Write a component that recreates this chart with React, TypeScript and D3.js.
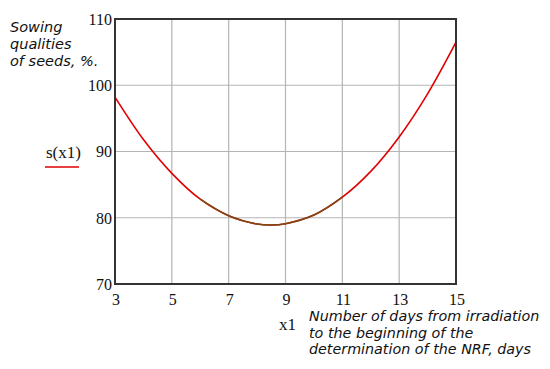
import { useRef, useEffect } from "react";
import * as d3 from "d3";

// values
const days = [3, 4, 5, 6, 7, 8, 8.5, 9, 10, 11, 12, 13, 14, 15];
const sowing = [98.2, 91.8, 86.7, 82.8, 80.3, 79.05, 78.9, 79.1, 80.4, 83.1, 87.0, 92.2, 98.7, 106.5];
const xTicks = [3, 5, 7, 9, 11, 13, 15];
const yTicks = [70, 80, 90, 100, 110];
const yTitle = ["Sowing", "qualities", "of seeds, %."];
const xTitle = ["Number of days from irradiation", "to the beginning of the", "determination of the NRF, days"];

export default function App() {
  const ref = useRef<SVGSVGElement>(null);

  useEffect(() => {
    const svg = d3.select(ref.current);
    const width = 550;
    const height = 369;
    svg.selectAll("*").remove();
    svg.attr("width", width).attr("height", height);

    const x = d3.scaleLinear().domain([3, 15]).range([115, 456]);
    const y = d3.scaleLinear().domain([70, 110]).range([284, 19]);

    // grid
    svg.append("g")
      .selectAll("line")
      .data(xTicks.slice(1, -1))
      .enter()
      .append("line")
      .attr("x1", (d) => x(d)).attr("x2", (d) => x(d))
      .attr("y1", y(110)).attr("y2", y(70))
      .attr("stroke", "#b4b4b4").attr("stroke-width", 1.2);
    svg.append("g")
      .selectAll("line")
      .data(yTicks.slice(1, -1))
      .enter()
      .append("line")
      .attr("x1", x(3)).attr("x2", x(15))
      .attr("y1", (d) => y(d)).attr("y2", (d) => y(d))
      .attr("stroke", "#b4b4b4").attr("stroke-width", 1.2);

    // curve
    const pts = days.map((d, i) => [d, sowing[i]] as [number, number]);
    const line = d3.line<[number, number]>()
      .x((d) => x(d[0]))
      .y((d) => y(d[1]))
      .curve(d3.curveCatmullRom);
    svg.append("path")
      .attr("d", line(pts))
      .attr("fill", "none")
      .attr("stroke", "#e00000")
      .attr("stroke-width", 1.6);
    // darker middle portion as in the reference
    const mid = pts.filter((p) => p[0] >= 6 && p[0] <= 11);
    svg.append("path")
      .attr("d", line(mid))
      .attr("fill", "none")
      .attr("stroke", "#7a4a14")
      .attr("stroke-width", 1.6);

    // frame
    svg.append("rect")
      .attr("x", x(3)).attr("y", y(110))
      .attr("width", x(15) - x(3)).attr("height", y(70) - y(110))
      .attr("fill", "none")
      .attr("stroke", "#333")
      .attr("stroke-width", 2);

    const tickFont = "'Liberation Serif', 'DejaVu Serif', serif";

    // y tick labels
    svg.append("g")
      .selectAll("text")
      .data(yTicks)
      .enter()
      .append("text")
      .attr("x", 112)
      .attr("y", (d) => y(d))
      .attr("dy", "0.36em")
      .attr("text-anchor", "end")
      .style("font-family", tickFont)
      .style("font-size", "16px")
      .style("fill", "#111")
      .text((d) => d);

    // x tick labels
    svg.append("g")
      .selectAll("text")
      .data(xTicks)
      .enter()
      .append("text")
      .attr("x", (d) => x(d) + 1)
      .attr("y", 305)
      .attr("text-anchor", "middle")
      .style("font-family", tickFont)
      .style("font-size", "16px")
      .style("fill", "#111")
      .text((d) => d);

    // axis names
    svg.append("text")
      .attr("x", 46).attr("y", 158)
      .style("font-family", tickFont)
      .style("font-size", "17px")
      .style("fill", "#111")
      .text("s(x1)");
    svg.append("line")
      .attr("x1", 45).attr("x2", 79)
      .attr("y1", 167).attr("y2", 167)
      .attr("stroke", "#e00000").attr("stroke-width", 1.6);
    svg.append("text")
      .attr("x", 279).attr("y", 330)
      .style("font-family", tickFont)
      .style("font-size", "17px")
      .style("fill", "#111")
      .text("x1");

    const noteFont = "'DejaVu Sans', sans-serif";
    svg.append("g")
      .selectAll("text")
      .data(yTitle)
      .enter()
      .append("text")
      .attr("x", 10)
      .attr("y", (d, i) => 32 + i * 17)
      .style("font-family", noteFont)
      .style("font-style", "italic")
      .style("font-size", "14.5px")
      .style("fill", "#111")
      .text((d) => d);
    svg.append("g")
      .selectAll("text")
      .data(xTitle)
      .enter()
      .append("text")
      .attr("x", 309)
      .attr("y", (d, i) => 321 + i * 16.5)
      .style("font-family", noteFont)
      .style("font-style", "italic")
      .style("font-size", "14.3px")
      .style("fill", "#111")
      .text((d) => d);
  }, []);

  return (
    <svg ref={ref} style={{ position: "absolute", left: 0, top: 0 }}></svg>
  );
}
